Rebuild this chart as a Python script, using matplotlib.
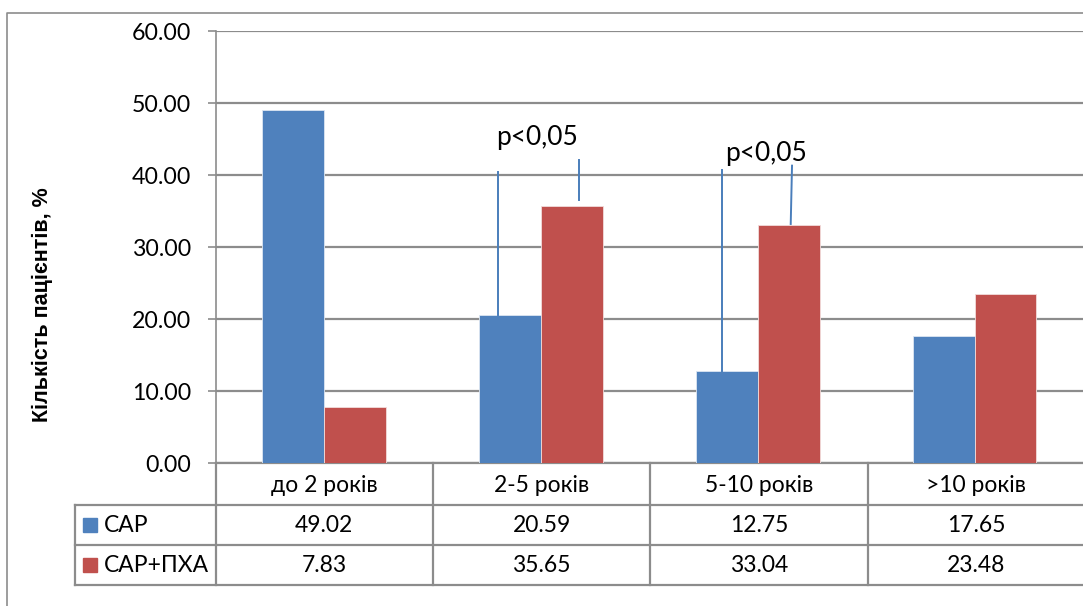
import matplotlib
matplotlib.use("Agg")
import matplotlib.pyplot as plt
from matplotlib.patches import Rectangle

categories = ["до 2 років", "2-5 років", "5-10 років", ">10 років"]
series_names = ["САР", "САР+ПХА"]
sar = [49.02, 20.59, 12.75, 17.65]
sar_pxa = [7.83, 35.65, 33.04, 23.48]
yticks = [0, 10, 20, 30, 40, 50, 60]
p_label = "p<0,05"
ylabel = "Кількість пацієнтів, %"

colors = ["#4F81BD", "#C0504D"]
grid_c = "#8C8C8C"
FONT = ["Lato", "DejaVu Sans"]
plt.rcParams["font.family"] = FONT

W, H = 1083, 606
fig = plt.figure(figsize=(W / 100, H / 100), dpi=100)

# overlay axes in pixel coordinates (y down)
ov = fig.add_axes([0, 0, 1, 1])
ov.set_xlim(0, W)
ov.set_ylim(H, 0)
ov.axis("off")

x0_px, x1_px = 215.7, 1085
y0_px, y60_px = 463, 31
ax = fig.add_axes([x0_px / W, 1 - y0_px / H, (x1_px - x0_px) / W, (y0_px - y60_px) / H])
ax.set_zorder(2)
ax.patch.set_alpha(0)

n = len(categories)
ax.set_xlim(-0.5, n - 0.5 + (x1_px - 1083) / 217.3)
ax.set_ylim(0, 60)
bw = 0.285
idx = list(range(n))
ax.bar([i - bw / 2 for i in idx], sar, width=bw, color=colors[0], edgecolor="#DCE6F2", linewidth=0.6, zorder=3)
ax.bar([i + bw / 2 for i in idx], sar_pxa, width=bw, color=colors[1], edgecolor="#F2DCDB", linewidth=0.6, zorder=3)

ax.set_yticks(yticks)
ax.set_yticklabels([f"{v:.2f}" for v in yticks], fontsize=16.7)
ax.tick_params(axis="y", length=5.8, color=grid_c, width=1.2, pad=12)
ax.tick_params(axis="x", length=0, labelbottom=False)
ax.set_xticks([])
ax.yaxis.grid(True, color=grid_c, linewidth=1.6, zorder=0)
ax.set_axisbelow(True)
for s in ["top", "right"]:
    ax.spines[s].set_visible(False)
ax.spines["left"].set_color(grid_c)
ax.spines["left"].set_linewidth(1.2)
ax.spines["bottom"].set_color(grid_c)
ax.spines["bottom"].set_linewidth(1.6)

# significance lines
line_c = "#4A7EBB"
ax.plot([0.80, 0.80], [40.4, sar[1]], color=line_c, lw=1.4, zorder=4)
ax.plot([1.175, 1.175], [42.1, 36.5], color=line_c, lw=1.4, zorder=4)
ax.plot([1.835, 1.835], [40.7, sar[2]], color=line_c, lw=1.4, zorder=4)
ax.plot([2.158, 2.152], [41.3, 33.2], color=line_c, lw=1.4, zorder=4)
ax.text(0.98, 44.1, p_label, fontsize=19, ha="center", va="baseline", zorder=5)
ax.text(2.04, 42.0, p_label, fontsize=19, ha="center", va="baseline", zorder=5)

ax.set_ylabel(ylabel, fontsize=15.5, fontweight="bold",
              family=["Liberation Sans", "DejaVu Sans"])
ax.yaxis.set_label_coords((53 - x0_px) / (x1_px - x0_px), (463 - 305) / 432)

# outer frame
ov.plot([7, 7, W + 5], [H + 5, 13, 13], color=grid_c, lw=1.2)

# data table
tc = grid_c
col_edges = [x0_px + 217.3 * i for i in range(n + 1)]
row_y = [463, 505, 545, 585]
leg_x = 75
for xe in col_edges:
    ov.plot([xe, xe], [row_y[0], row_y[3]], color=tc, lw=1.6)
ov.plot([leg_x, leg_x], [row_y[1], row_y[3]], color=tc, lw=1.6)
for yy in row_y[1:]:
    ov.plot([leg_x, W + 5], [yy, yy], color=tc, lw=1.6)
for i, c in enumerate(categories):
    ov.text((col_edges[i] + col_edges[i + 1]) / 2, (row_y[0] + row_y[1]) / 2 + 1, c,
            fontsize=16.5, ha="center", va="center")
for r, vals in enumerate([sar, sar_pxa]):
    yc = (row_y[r + 1] + row_y[r + 2]) / 2
    for i, v in enumerate(vals):
        ov.text((col_edges[i] + col_edges[i + 1]) / 2, yc, f"{v:.2f}", fontsize=16.5, ha="center", va="center")
    ov.add_patch(Rectangle((83, yc - 7), 14, 14, color=colors[r]))
    ov.text(104, yc, series_names[r], fontsize=16.5, ha="left", va="center")

fig.savefig("out.png", dpi=100)
